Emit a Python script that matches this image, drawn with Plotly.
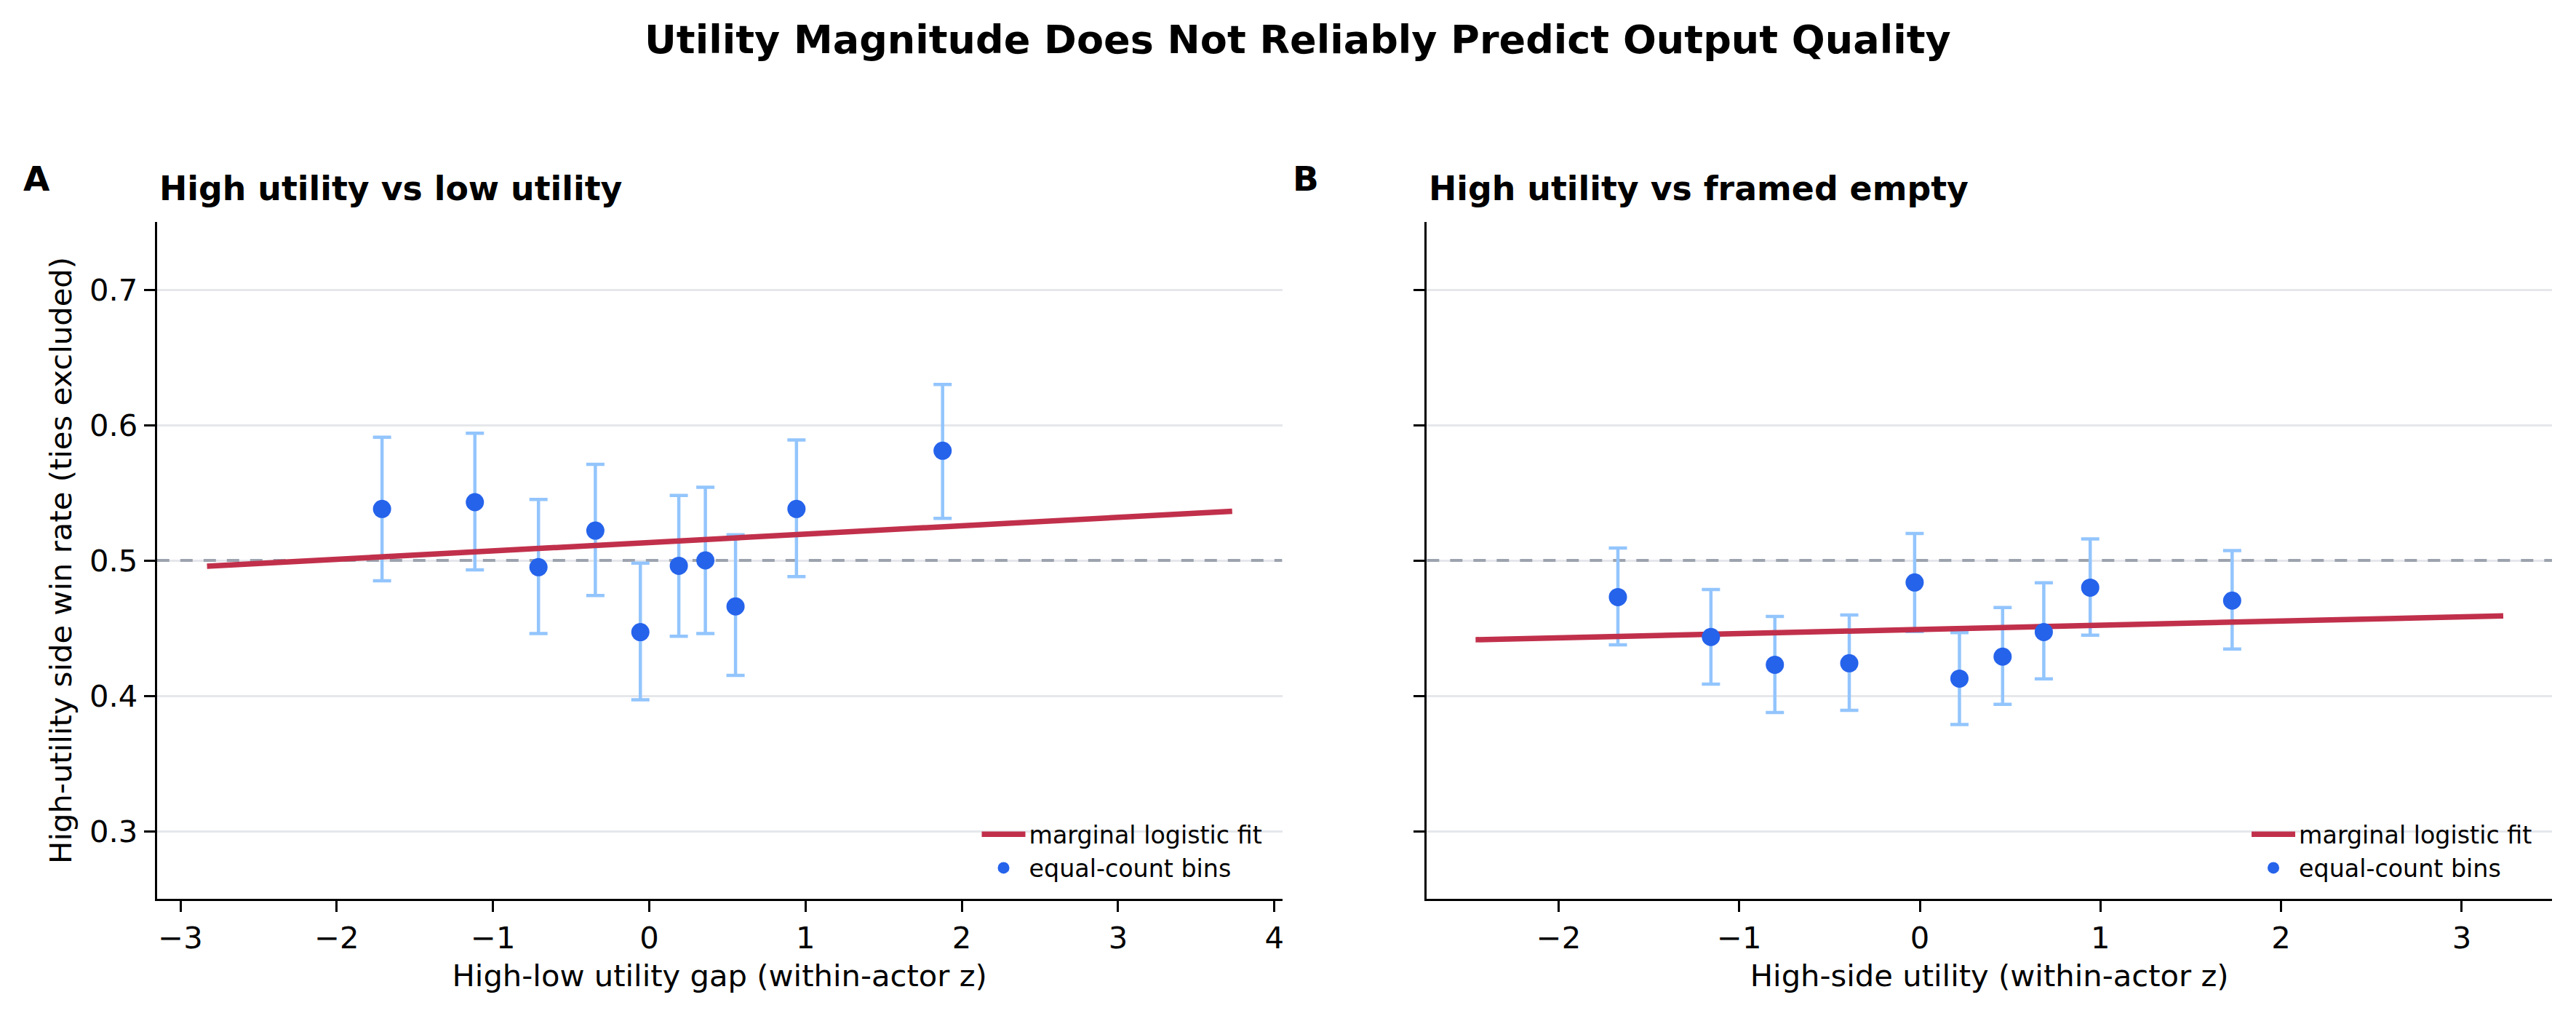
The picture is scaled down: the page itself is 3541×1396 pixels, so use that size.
import plotly.graph_objects as go

# ---------------- data ----------------
a_bin_x = [-1.710, -1.116, -0.709, -0.345, -0.057, 0.189, 0.359, 0.552, 0.942, 1.877]
a_bin_y = [0.538, 0.543, 0.495, 0.522, 0.447, 0.496, 0.500, 0.466, 0.538, 0.581]
a_ci_hi = [0.591, 0.594, 0.545, 0.571, 0.498, 0.548, 0.554, 0.519, 0.589, 0.630]
a_ci_lo = [0.485, 0.493, 0.446, 0.474, 0.397, 0.444, 0.446, 0.415, 0.488, 0.531]
a_fit_x = [-2.83, 3.73]
a_fit_y = [0.4957, 0.5363]

b_bin_x = [-1.672, -1.157, -0.803, -0.391, -0.029, 0.219, 0.458, 0.686, 0.943, 1.729]
b_bin_y = [0.4729, 0.4434, 0.4229, 0.4240, 0.4837, 0.4127, 0.4289, 0.4471, 0.4799, 0.4703]
b_ci_hi = [0.5091, 0.4785, 0.4586, 0.4597, 0.5199, 0.4467, 0.4652, 0.4835, 0.5158, 0.5072]
b_ci_lo = [0.4376, 0.4086, 0.3876, 0.3892, 0.4475, 0.3787, 0.3937, 0.4125, 0.4448, 0.4346]
b_fit_x = [-2.46, 3.23]
b_fit_y = [0.4414, 0.4590]

a_x_range = [-3.15, 4.05]
b_x_range = [-2.73, 3.50]
y_range = [0.25, 0.75]
chance_level = 0.5
y_ticks = [0.3, 0.4, 0.5, 0.6, 0.7]
a_x_ticks = [-3, -2, -1, 0, 1, 2, 3, 4]
b_x_ticks = [-2, -1, 0, 1, 2, 3]

suptitle = "Utility Magnitude Does Not Reliably Predict Output Quality"
a_title = "High utility vs low utility"
b_title = "High utility vs framed empty"
a_xlabel = "High-low utility gap (within-actor z)"
b_xlabel = "High-side utility (within-actor z)"
ylabel = "High-utility side win rate (ties excluded)"

# ---------------- style ----------------
W, H = 3541, 1396
FONT = "DejaVu Sans"
RED = "#c1304b"
DOT = "#2563eb"
BAR = "#93c5fd"
GRID = "#e5e7eb"

fig = go.Figure()


def add_panel(xs, ys, hi, lo, fx, fy, xrange_, xa, ya, legend):
    # chance-level reference (axhline)
    fig.add_trace(go.Scatter(
        x=xrange_, y=[chance_level, chance_level], mode="lines", xaxis=xa, yaxis=ya,
        showlegend=False, hoverinfo="skip", cliponaxis=True,
        line=dict(color="#9ca3af", width=4, dash="17px,15px")))
    plus = [h - y for h, y in zip(hi, ys)]
    minus = [y - l for l, y in zip(lo, ys)]
    fig.add_trace(go.Scatter(
        x=xs, y=ys, mode="markers", xaxis=xa, yaxis=ya, showlegend=False,
        marker=dict(size=1, color="rgba(0,0,0,0)"),
        error_y=dict(type="data", symmetric=False, array=plus, arrayminus=minus,
                     color=BAR, thickness=4.5, width=12.5),
        hoverinfo="skip"))
    fig.add_trace(go.Scatter(
        x=fx, y=fy, mode="lines", xaxis=xa, yaxis=ya, legend=legend,
        name="marginal logistic fit", line=dict(color=RED, width=7.5)))
    fig.add_trace(go.Scatter(
        x=xs, y=ys, mode="markers", xaxis=xa, yaxis=ya, legend=legend,
        name="equal-count bins",
        marker=dict(size=25, color=DOT, line=dict(width=0))))


add_panel(a_bin_x, a_bin_y, a_ci_hi, a_ci_lo, a_fit_x, a_fit_y, a_x_range, "x", "y", "legend")
add_panel(b_bin_x, b_bin_y, b_ci_hi, b_ci_lo, b_fit_x, b_fit_y, b_x_range, "x2", "y2", "legend2")

# plot area geometry (pixels)
top_px, bot_px = 305, 1235
a_l, a_r = 216, 1764
b_l, b_r = 1963, 3511
ydom = [1 - bot_px / H, 1 - top_px / H]

axis_common = dict(
    showline=True, linecolor="black", linewidth=3.3,
    ticks="outside", ticklen=15, tickwidth=3.3, tickcolor="black",
    tickfont=dict(family=FONT, size=41.7, color="black"),
    zeroline=False, mirror=False,
)

legend_common = dict(
    xanchor="right", y=1 - 1221 / H, yanchor="bottom",
    bgcolor="rgba(255,255,255,0)", borderwidth=0,
    font=dict(family=FONT, size=33.3, color="black"),
    itemwidth=60, tracegroupgap=0,
)

fig.update_layout(
    width=W, height=H, autosize=False,
    margin=dict(l=0, r=0, t=0, b=0),
    paper_bgcolor="white", plot_bgcolor="white",
    font=dict(family=FONT, color="black"),
    xaxis=dict(domain=[a_l / W, a_r / W], range=a_x_range, tickvals=a_x_ticks,
               ticktext=[str(v).replace("-", "\u2212") for v in a_x_ticks],
               showgrid=False, anchor="y",
               title=dict(text=a_xlabel, font=dict(family=FONT, size=41.7), standoff=14),
               **axis_common),
    yaxis=dict(domain=ydom, range=y_range, tickvals=y_ticks,
               ticktext=[f"{v:.1f}" for v in y_ticks],
               showgrid=True, gridcolor=GRID, gridwidth=2.5, anchor="x",
               **axis_common),
    xaxis2=dict(domain=[b_l / W, b_r / W], range=b_x_range, tickvals=b_x_ticks,
                ticktext=[str(v).replace("-", "\u2212") for v in b_x_ticks],
                showgrid=False, anchor="y2",
                title=dict(text=b_xlabel, font=dict(family=FONT, size=41.7), standoff=14),
                **axis_common),
    yaxis2=dict(domain=ydom, range=y_range, tickvals=y_ticks,
                showticklabels=False,
                showgrid=True, gridcolor=GRID, gridwidth=2.5, anchor="x2",
                **axis_common),
    legend=dict(x=1742 / W, **legend_common),
    legend2=dict(x=3489 / W, **legend_common),
)

# texts
ann = [
    dict(text=f"<b>{suptitle}</b>", x=1786 / W, y=1 - 55 / H, xanchor="center",
         yanchor="middle", font=dict(size=54, family=FONT)),
    dict(text="<b>A</b>", x=30 / W, y=1 - 245 / H, xanchor="left", yanchor="middle",
         font=dict(size=47, family=FONT)),
    dict(text="<b>B</b>", x=1777 / W, y=1 - 245 / H, xanchor="left", yanchor="middle",
         font=dict(size=47, family=FONT)),
    dict(text=f"<b>{a_title}</b>", x=217 / W, y=1 - 259 / H, xanchor="left",
         yanchor="middle", font=dict(size=45.8, family=FONT)),
    dict(text=f"<b>{b_title}</b>", x=1964 / W, y=1 - 259 / H, xanchor="left",
         yanchor="middle", font=dict(size=45.8, family=FONT)),
    dict(text=ylabel, x=83 / W, y=1 - 770 / H, xanchor="center", yanchor="middle",
         textangle=-90, font=dict(size=41.7, family=FONT)),
]
for a in ann:
    fig.add_annotation(xref="paper", yref="paper", showarrow=False, **a)

fig.write_html("out.html")
